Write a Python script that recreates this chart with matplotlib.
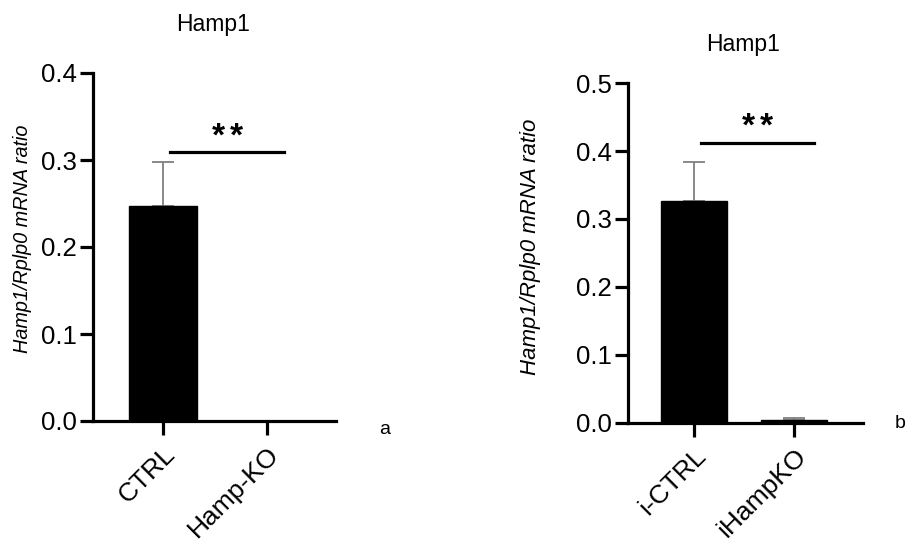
import matplotlib
matplotlib.use("Agg")
import matplotlib.pyplot as plt

plt.rcParams["font.family"] = ["Liberation Sans", "DejaVu Sans"]

# Panel a: constitutive knockout
groups_a = ["CTRL", "Hamp-KO"]
means_a = [0.247, 0.0]
sem_a = [0.051, 0.0]
sig_a = 0.309

# Panel b: inducible knockout
groups_b = ["i-CTRL", "iHampKO"]
means_b = [0.326, 0.005]
sem_b = [0.058, 0.003]
sig_b = 0.412

ylabel = "Hamp1/Rplp0 mRNA ratio"


def draw_panel(ax, groups, means, sems, ymax, yticks, sig_y, sig_x_end, xlim, ylab_size, ylab_xy):
    xs = list(range(len(groups)))
    ax.bar(xs, means, width=0.66, color="black", edgecolor="black", zorder=2)
    for x, m, s in zip(xs, means, sems):
        if s > 0:
            ax.errorbar(x, m, yerr=[[0], [s]], fmt="none", ecolor="#808080",
                        elinewidth=1.3, capsize=8, capthick=1.3, zorder=1)

    ax.set_xlim(*xlim)
    ax.set_ylim(0, ymax)
    ax.set_yticks(yticks)
    ax.set_yticklabels([f"{t:.1f}" for t in yticks])
    ax.set_xticks(xs)
    ax.set_xticklabels(groups, rotation=45, ha="right", rotation_mode="anchor")

    for side in ("top", "right"):
        ax.spines[side].set_visible(False)
    for side in ("left", "bottom"):
        ax.spines[side].set_linewidth(2.3)
    ax.tick_params(axis="y", length=9.5, width=2.3, labelsize=18.5, pad=2)
    ax.tick_params(axis="x", length=10, width=2.3, labelsize=19, pad=5)

    ax.set_ylabel(ylabel, fontstyle="italic", fontsize=ylab_size)
    ax.yaxis.label.set_verticalalignment("center")
    ax.yaxis.set_label_coords(*ylab_xy)

    # significance bar with two stars above it
    ax.plot([0.07, sig_x_end], [sig_y, sig_y], color="black", lw=2.3, clip_on=False)
    mid = (0.07 + sig_x_end) / 2
    for dx in (-6.5, 6.5):
        ax.annotate("*", xy=(mid, sig_y), xytext=(dx, 11), textcoords="offset points",
                    ha="center", va="center", fontsize=24, fontweight="bold",
                    annotation_clip=False)


fig = plt.figure(figsize=(9.1, 5.43), dpi=100)

ax_a = fig.add_axes([93 / 910, 1 - 421 / 543, 243 / 910, 348 / 543])
draw_panel(ax_a, groups_a, means_a, sem_a, 0.4, [0.0, 0.1, 0.2, 0.3, 0.4],
           sig_a, 1.16, (-0.673, 1.663), 14.3, (-0.292, 0.523))

ax_b = fig.add_axes([628 / 910, 1 - 423 / 543, 235 / 910, 340 / 543])
draw_panel(ax_b, groups_b, means_b, sem_b, 0.5, [0.0, 0.1, 0.2, 0.3, 0.4, 0.5],
           sig_b, 1.2, (-0.66, 1.69), 16, (-0.417, 0.518))

fig.text(213 / 910, 1 - 24 / 543, "Hamp1", ha="center", va="center", fontsize=16.5)
fig.text(743 / 910, 1 - 44 / 543, "Hamp1", ha="center", va="center", fontsize=16.5)
fig.text(385 / 910, 1 - 430 / 543, "a", ha="center", va="center", fontsize=14)
fig.text(900 / 910, 1 - 424 / 543, "b", ha="center", va="center", fontsize=14)

fig.savefig("out.png", dpi=100)
